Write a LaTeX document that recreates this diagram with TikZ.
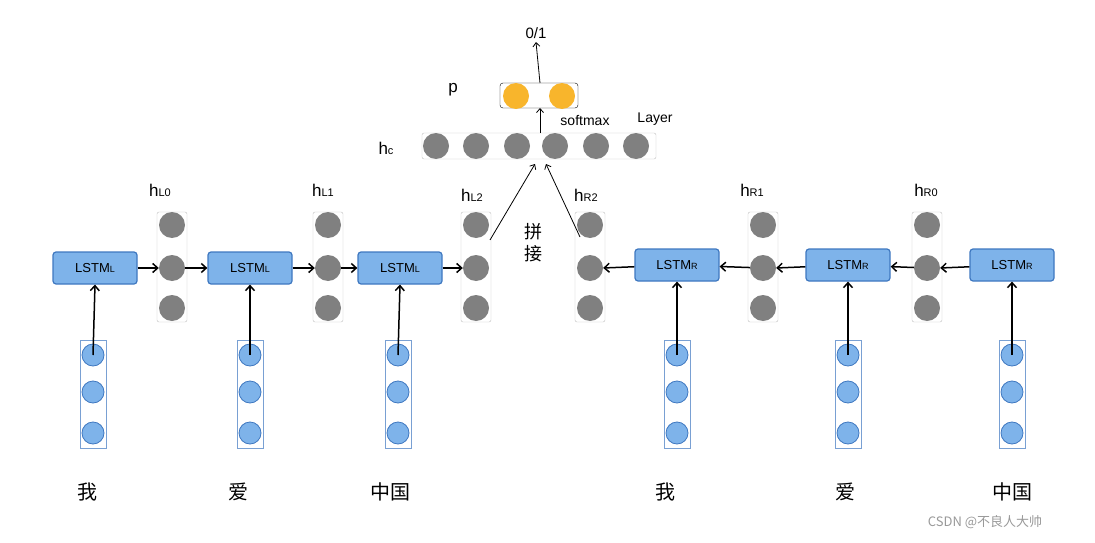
\documentclass[tikz,border=0pt]{standalone}
\usepackage{fontspec}
\setmainfont{Liberation Sans}
\newfontfamily\cjk{Noto Sans CJK SC}
\usetikzlibrary{arrows.meta}
\definecolor{lblue}{HTML}{7EB3EA}
\definecolor{dblue}{HTML}{3F78C0}
\definecolor{gr}{HTML}{808080}
\definecolor{org}{HTML}{F8B52C}
\begin{document}
\begin{tikzpicture}[x=1pt,y=-1pt,
  lstm/.style={draw=dblue,line width=1.2pt,fill=lblue,rounded corners=3pt,minimum width=84pt,minimum height=32pt,font=\fontsize{13}{13}\selectfont},
  gc/.style={circle,fill=gr,minimum size=26pt,inner sep=0pt},
  bc/.style={circle,fill=lblue,draw=dblue,line width=0.8pt,minimum size=22pt,inner sep=0pt},
  oc/.style={circle,fill=org,minimum size=26pt,inner sep=0pt},
  col/.style={draw=gray!50,rounded corners=2pt},
  bcol/.style={draw=dblue!70,line width=0.8pt},
  arr/.style={-{Straight Barb[length=5pt,width=9pt]},line width=1.5pt},
  thin/.style={-{Straight Barb[length=4pt,width=7pt]},line width=0.8pt},
  hl/.style={font=\fontsize{17}{17}\selectfont},
  wd/.style={font=\cjk\fontsize{20}{20}\selectfont}]
\useasboundingbox (0,0) rectangle (1095,543);
% gray columns
\foreach \n/\x in {L0/172,L1/328,L2/476,R2/590,R1/763,R0/927}{
  \draw[col] (\x-15,212) rectangle (\x+15,322);
  \node[gc] (\n a) at (\x,225) {};
  \node[gc] (\n b) at (\x,268) {};
  \node[gc] (\n c) at (\x,308) {};
}
% blue columns
\foreach \n/\x in {1/93,2/250,3/398,4/677,5/848,6/1012}{
  \draw[bcol] (\x-13,340) rectangle (\x+13,448);
  \node[bc] (b\n a) at (\x,355) {};
  \node[bc] (b\n b) at (\x,392) {};
  \node[bc] (b\n c) at (\x,433) {};
}
% LSTM boxes
\node[lstm] (l1) at (95,268) {LSTM\fontsize{9}{9}\selectfont L};
\node[lstm] (l2) at (250,268) {LSTM\fontsize{9}{9}\selectfont L};
\node[lstm] (l3) at (400,268) {LSTM\fontsize{9}{9}\selectfont L};
\node[lstm] (r1) at (677,265) {LSTM\fontsize{9}{9}\selectfont R};
\node[lstm] (r2) at (848,265) {LSTM\fontsize{9}{9}\selectfont R};
\node[lstm] (r3) at (1012,265) {LSTM\fontsize{9}{9}\selectfont R};
% horizontal arrows
\draw[arr] (l1) -- (L0b.west);
\draw[arr] (L0b) -- (l2);
\draw[arr] (l2) -- (L1b.west);
\draw[arr] (L1b) -- (l3);
\draw[arr] (l3) -- (L2b.west);
\draw[arr] (r1) -- (R2b.east);
\draw[arr] (R1b) -- (r1);
\draw[arr] (r2) -- (R1b.east);
\draw[arr] (R0b) -- (r2);
\draw[arr] (r3) -- (R0b.east);
% vertical arrows
\foreach \i/\b in {1/l1,2/l2,3/l3,4/r1,5/r2,6/r3}{
  \draw[arr] (b\i a.center) -- (\b.south);
}
% h labels
\node[hl] (tL0) at (160,190) {h\fontsize{11}{11}\selectfont L0};
\node[hl] (tL1) at (323,190) {h\fontsize{11}{11}\selectfont L1};
\node[hl] (tL2) at (472,195) {h\fontsize{11}{11}\selectfont L2};
\node[hl] (tR2) at (586,195) {h\fontsize{11}{11}\selectfont R2};
\node[hl] (tR1) at (752,190) {h\fontsize{11}{11}\selectfont R1};
\node[hl] (tR0) at (926,190) {h\fontsize{11}{11}\selectfont R0};
% hc layer
\draw[draw=gray!50,rounded corners=2pt] (422,133) rectangle (656,159);
\foreach \i/\x in {1/436,2/476,3/517,4/555,5/596,6/636}{
  \node[gc] (c\i) at (\x,146) {};
}
\node[hl] (thc) at (386,148) {h\fontsize{11}{11}\selectfont c};
% p layer
\draw[rounded corners=3pt] (500,83) rectangle (578,108);
\node[oc] (p1) at (516,96) {};
\node[oc] (p2) at (562,96) {};
\coordinate (ptop) at (540,83);
\coordinate (pbot) at (540,108);
\coordinate (hctop) at (540,133);
\node[font=\fontsize{17}{17}\selectfont] (tp) at (453,90) {p};
\node[font=\fontsize{15}{15}\selectfont] (out) at (536,33) {0/1};
\draw[thin] (ptop) -- (out.south);
\draw[thin] (hctop) -- (pbot);
\node[font=\fontsize{14}{14}\selectfont] (sm) at (585,121) {softmax};
\node[font=\fontsize{14}{14}\selectfont] (ly) at (655,119) {Layer};
% concat arrows
\coordinate (la) at (490,240);
\coordinate (lb) at (535,164);
\coordinate (ra) at (580,237);
\coordinate (rb) at (546,164);
\draw[thin] (la) -- (lb);
\draw[thin] (ra) -- (rb);
\node[font=\cjk\fontsize{18}{22}\selectfont,align=center] (pj) at (533,243) {拼\\接};
% words
\node[wd] (w1) at (87,492) {我};
\node[wd] (w2) at (238,492) {爱};
\node[wd] (w3) at (390,492) {中国};
\node[wd] (w4) at (665,492) {我};
\node[wd] (w5) at (845,492) {爱};
\node[wd] (w6) at (1012,492) {中国};
\node[font=\cjk\fontsize{13}{13}\selectfont,text=gray!80] (wm) at (985,522) {CSDN @不良人大帅};
\end{tikzpicture}
\end{document}
